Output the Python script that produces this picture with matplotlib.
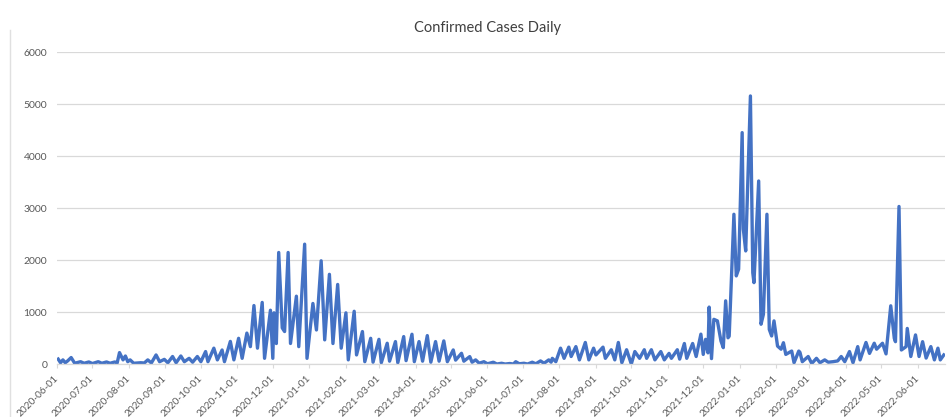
import matplotlib.pyplot as plt
from matplotlib.lines import Line2D
import pandas as pd

# daily confirmed cases at the weekly peaks / troughs
start_date = "2020-06-01"

day_offset = [
    1, 3, 5, 7, 9, 12, 15, 20, 23, 27, 30, 35, 38, 42, 45, 49, 51, 53, 56, 58,
    60, 62, 65, 71, 74, 77, 80, 84, 87, 91, 94, 98, 101, 105, 108, 112, 115, 119, 122, 126,
    128, 133, 136, 140, 142, 147, 150, 154, 157, 161, 164, 167, 170, 174, 176, 181, 183, 184, 186, 188,
    191, 193, 196, 198, 203, 205, 210, 212, 217, 220, 224, 227, 231, 234, 238, 241, 245, 247, 252, 254,
    259, 261, 266, 268, 273, 275, 280, 282, 287, 289, 294, 296, 301, 303, 307, 310, 314, 317, 321, 324,
    328, 331, 336, 338, 343, 345, 350, 352, 355, 358, 362, 365, 370, 373, 377, 380, 384, 387, 389, 392,
    396, 399, 403, 406, 410, 413, 417, 419, 420, 423, 427, 430, 434, 436, 440, 443, 448, 451, 455, 457,
    463, 465, 470, 473, 476, 479, 483, 487, 490, 494, 498, 500, 504, 507, 512, 515, 519, 521, 526, 528,
    532, 534, 539, 542, 546, 548, 550, 552, 553, 555, 557, 560, 563, 565, 567, 569, 570, 574, 576, 578,
    581, 582, 584, 588, 590, 591, 595, 597, 599, 602, 604, 606, 608, 611, 614, 616, 618, 623, 625, 629,
    630, 632, 637, 640, 644, 647, 651, 654, 658, 662, 665, 668, 672, 675, 679, 681, 686, 689, 693, 695,
    700, 703, 707, 710, 711, 714, 716, 720, 721, 724, 728, 731, 734, 737, 741, 744, 747, 749, 752,
]

cases = [
    100, 30, 85, 30, 65, 130, 20, 50, 20, 45, 15, 50, 20, 45, 20, 45, 25, 225, 85, 160,
    50, 85, 20, 30, 25, 85, 25, 180, 50, 95, 30, 150, 30, 160, 50, 115, 40, 150, 50, 245,
    50, 310, 85, 275, 50, 440, 85, 500, 115, 600, 340, 1130, 310, 1190, 115, 1040, 115, 990, 400, 2150,
    700, 630, 2150, 400, 1310, 340, 2310, 115, 1170, 660, 1990, 470, 1730, 400, 1535, 310, 990, 85, 1020, 180,
    630, 50, 500, 40, 480, 30, 405, 60, 437, 30, 533, 70, 578, 50, 437, 60, 552, 40, 437, 60,
    450, 50, 276, 80, 212, 60, 148, 40, 85, 20, 50, 10, 40, 5, 20, 5, 15, 5, 50, 10,
    20, 5, 40, 10, 65, 20, 85, 40, 115, 50, 310, 115, 330, 150, 340, 85, 420, 85, 310, 180,
    330, 115, 280, 85, 420, 30, 280, 5, 245, 115, 280, 115, 280, 85, 245, 85, 210, 115, 280, 100,
    400, 115, 400, 150, 580, 190, 480, 220, 1100, 110, 865, 835, 450, 320, 1220, 510, 540, 2885, 1700, 1830,
    4455, 2600, 2180, 5160, 1760, 1570, 3525, 770, 960, 2885, 670, 545, 835, 350, 290, 415, 190, 255, 30, 255,
    230, 50, 150, 15, 115, 30, 85, 40, 50, 65, 150, 50, 245, 30, 340, 85, 420, 210, 405, 290,
    405, 200, 1125, 500, 435, 3035, 275, 340, 690, 150, 565, 150, 435, 120, 340, 85, 310, 85, 180,
]

y_ticks = [0, 1000, 2000, 3000, 4000, 5000, 6000]
tick_months = pd.date_range("2020-06-01", "2022-06-01", freq="MS")

dates = pd.Timestamp(start_date) + pd.to_timedelta(day_offset, unit="D")

plt.rcParams['font.family'] = ['Lato', 'DejaVu Sans']

W, H = 952, 417
fig = plt.figure(figsize=(W / 100, H / 100), dpi=100)
ax = fig.add_axes([57 / W, (H - 364.3) / H, (945 - 57) / W, (364.3 - 52.3) / H])

ax.plot(dates, cases, color='#4472C4', lw=2.4)

ax.set_ylim(0, 6000)
ax.set_yticks(y_ticks)
ax.set_yticklabels([str(v) for v in y_ticks])
ax.set_xlim(pd.Timestamp(start_date), pd.Timestamp(start_date) + pd.Timedelta(days=753))
ax.set_xticks(tick_months)
ax.set_xticklabels([d.strftime('%Y-%m-%d') for d in tick_months],
                   rotation=45, ha='right', va='center', rotation_mode='anchor')

ax.grid(axis='y', color='#d9d9d9', lw=0.9)
ax.set_axisbelow(True)
for side in ['top', 'right', 'left']:
    ax.spines[side].set_visible(False)
ax.spines['bottom'].set_color('#d9d9d9')
ax.spines['bottom'].set_linewidth(0.9)

ax.tick_params(axis='y', length=0, pad=7, labelsize=7.5, labelcolor='#595959')
ax.tick_params(axis='x', length=3, width=0.8, color='#d9d9d9', pad=6,
               labelsize=7.3, labelcolor='#595959')

fig.text(488 / W, 1 - 28 / H, 'Confirmed Cases Daily', ha='center', va='center',
         fontsize=10.5, color='#404040')

# faint frame edge on the left of the screenshot
fig.add_artist(Line2D([10 / W, 10 / W], [0, 1 - 30 / H], color='#e0e0e0', lw=1.0))

fig.savefig('out.png', dpi=100)
